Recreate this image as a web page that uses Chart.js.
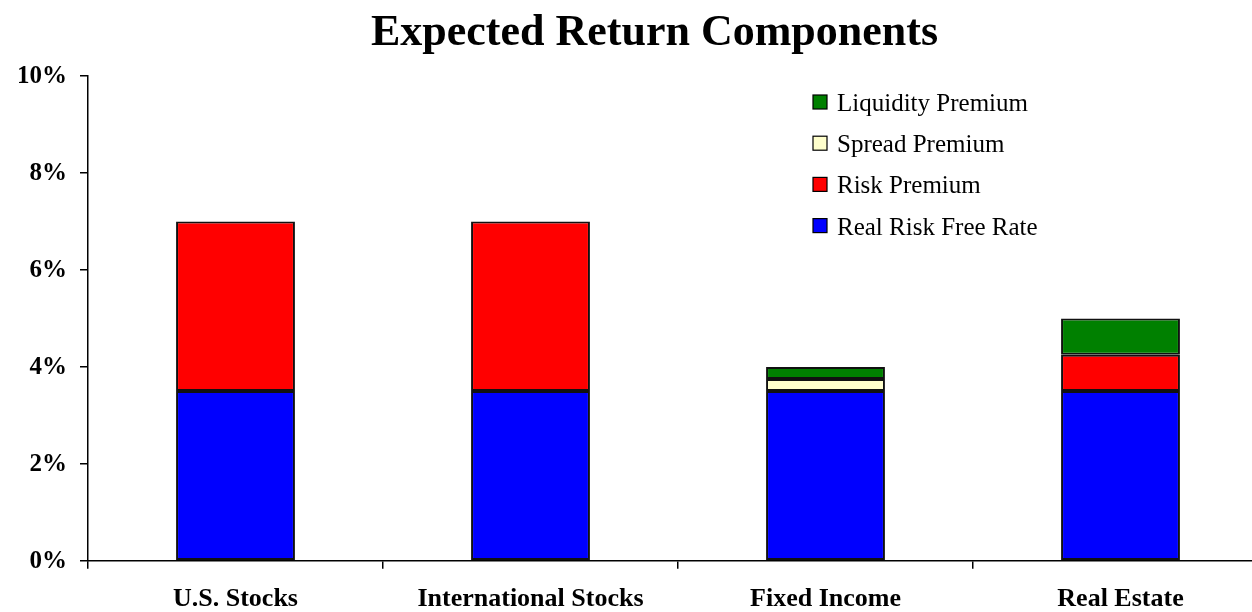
<!DOCTYPE html>
<html>
<head>
<meta charset="utf-8">
<title>Expected Return Components</title>
<script src="https://cdn.jsdelivr.net/npm/chart.js@4.4.1/dist/chart.umd.min.js"></script>
<style>
  html, body { margin: 0; padding: 0; background: #ffffff; overflow: hidden; width: 1252px; height: 612px; }
  #wrap { width: 1272px; height: 630px; }
  canvas { display: block; }
</style>
</head>
<body>
<div id="wrap"><canvas id="chart" width="1272" height="630"></canvas></div>
<script>
// Asset classes along the horizontal axis
const categories = ['U.S. Stocks', 'International Stocks', 'Fixed Income', 'Real Estate'];

// Return components, in percent (stacked from the bottom up)
const realRiskFreeRate = [3.5, 3.5, 3.5, 3.5];
const riskPremium      = [3.5, 3.5, null, 0.75];
const spreadPremium    = [null, null, 0.25, null];
const liquidityPremium = [null, null, 0.25, 0.75];

const seriesNames  = ['Real Risk Free Rate', 'Risk Premium', 'Spread Premium', 'Liquidity Premium'];
const seriesColors = ['#0000FF', '#FF0000', '#FFFFCC', '#008000'];

const chartTitle = 'Expected Return Components';

// Vertical axis range and tick spacing, in percent
const yMin = 0;
const yMax = 10;
const yStep = 2;

const serif = "'Liberation Serif', 'Times New Roman', serif";

const seriesValues = [realRiskFreeRate, riskPremium, spreadPremium, liquidityPremium];
const datasets = seriesValues.map((values, i) => ({
  label: seriesNames[i],
  data: values,
  backgroundColor: seriesColors[i],
  borderColor: '#111111',
  borderWidth: 2,
  borderSkipped: false,
  categoryPercentage: 1.0,
  barPercentage: 0.403
}));

// Heading drawn above the plot, centred over the bars
const heading = {
  id: 'heading',
  afterDraw(chart) {
    const ctx = chart.ctx;
    ctx.save();
    ctx.font = 'bold 44px ' + serif;
    ctx.fillStyle = '#000000';
    ctx.textAlign = 'center';
    ctx.textBaseline = 'alphabetic';
    ctx.fillText(chartTitle, 654.5, 45);
    ctx.restore();
  }
};

// Legend drawn inside the plot area, top series first
const innerLegend = {
  id: 'innerLegend',
  afterDraw(chart) {
    const ctx = chart.ctx;
    const items = chart.data.datasets.slice().reverse();
    const boxX = 813, textX = 837, firstBaseline = 111, rowGap = 41.2, box = 14;
    ctx.save();
    ctx.font = '25px ' + serif;
    ctx.textAlign = 'left';
    ctx.textBaseline = 'alphabetic';
    items.forEach((ds, i) => {
      const base = firstBaseline + i * rowGap;
      ctx.fillStyle = ds.backgroundColor;
      ctx.fillRect(boxX, base - 16, box, box);
      ctx.lineWidth = 1.2;
      ctx.strokeStyle = '#000000';
      ctx.strokeRect(boxX, base - 16, box, box);
      ctx.fillStyle = '#000000';
      ctx.fillText(ds.label, textX, base);
    });
    ctx.restore();
  }
};

new Chart(document.getElementById('chart'), {
  type: 'bar',
  data: { labels: categories, datasets: datasets },
  options: {
    responsive: false,
    animation: false,
    layout: { padding: { left: 4, right: 4, top: 76, bottom: 0 } },
    plugins: {
      legend: { display: false },
      tooltip: { enabled: false },
      title: { display: false }
    },
    scales: {
      x: {
        stacked: true,
        offset: true,
        border: { display: true, color: '#000000', width: 1.5 },
        grid: {
          display: true,
          offset: true,
          drawOnChartArea: false,
          drawTicks: true,
          tickLength: 8,
          color: '#000000',
          lineWidth: 1.5
        },
        ticks: {
          color: '#000000',
          padding: 15,
          maxRotation: 0,
          font: { family: serif, size: 26, weight: 'bold', lineHeight: 1.2 }
        }
      },
      y: {
        stacked: true,
        min: yMin,
        max: yMax,
        border: { display: true, color: '#000000', width: 1.5 },
        grid: {
          display: true,
          drawOnChartArea: false,
          drawTicks: true,
          tickLength: 8,
          color: '#000000',
          lineWidth: 1.5
        },
        ticks: {
          stepSize: yStep,
          color: '#000000',
          padding: 13,
          labelOffset: 1,
          font: { family: serif, size: 25, weight: 'bold' },
          callback: (v) => v + '%'
        },
        afterFit(scale) { scale.width = 84; }
      }
    }
  },
  plugins: [heading, innerLegend]
});
</script>
</body>
</html>
